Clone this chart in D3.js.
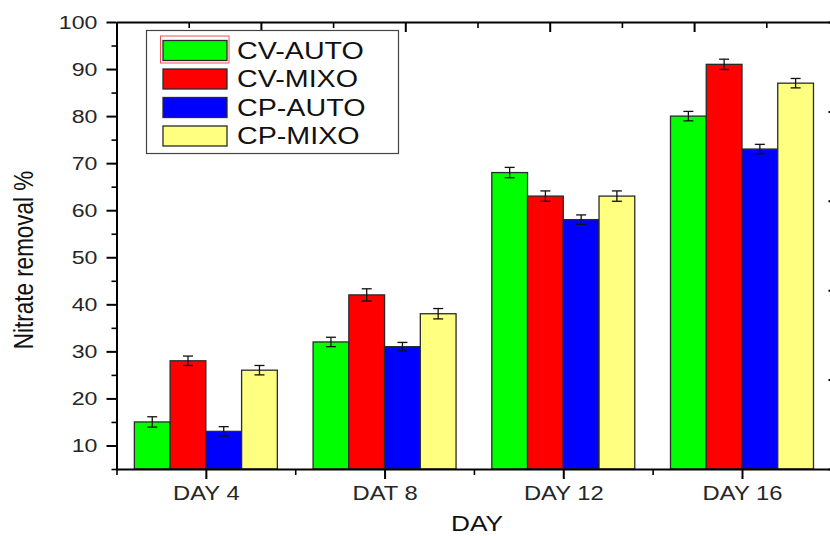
<!DOCTYPE html>
<html>
<head>
<meta charset="utf-8">
<script src="https://cdn.jsdelivr.net/npm/d3@7/dist/d3.min.js"></script>
<style>
  html, body { margin: 0; padding: 0; background: #fff; }
  svg { display: block; font-family: "Liberation Sans", Arial, sans-serif; }
</style>
</head>
<body>
<svg id="chart" width="830" height="536"></svg>
<script>
// Nitrate removal (%) per sampling day for each strain / growth mode
const days = ["DAY 4", "DAT 8", "DAY 12", "DAY 16"];
const seriesNames = ["CV-AUTO", "CV-MIXO", "CP-AUTO", "CP-MIXO"];
const cvAuto = [15, 32, 68, 80];
const cvMixo = [28, 42, 63, 91];
const cpAuto = [13, 31, 58, 73];
const cpMixo = [26, 38, 63, 87];
const cvAutoErr = [1.1, 1.0, 1.1, 1.0];
const cvMixoErr = [1.0, 1.3, 1.1, 1.1];
const cpAutoErr = [1.0, 0.9, 1.0, 1.0];
const cpMixoErr = [1.0, 1.1, 1.1, 1.0];
const yTicks = [10, 20, 30, 40, 50, 60, 70, 80, 90, 100];
const yMinorTicks = [5, 15, 25, 35, 45, 55, 65, 75, 85, 95];

const seriesValues = [cvAuto, cvMixo, cpAuto, cpMixo];
const seriesErrors = [cvAutoErr, cvMixoErr, cpAutoErr, cpMixoErr];
const colors = ["#00ff00", "#ff0000", "#0000ff", "#ffff80"];

const SX = 1.22;              // horizontal glyph stretch
const plotLeft = 116.5, plotRight = 838.5, plotTop = 22, plotBottom = 469;

const svg = d3.select("#chart");

// scales
const y = d3.scaleLinear().domain([5, 100]).range([plotBottom, plotTop]);
const x = d3.scaleLinear().domain([0.5, 4.54]).range([plotLeft, plotRight]);
const step = x(2) - x(1);
const inner = d3.scaleBand().domain(seriesNames).range([-0.4 * step, 0.4 * step]).padding(0);
const yRight = d3.scaleLinear().domain([0, 5]).range([plotBottom, plotTop]);
const xTop = d3.scaleLinear().domain([0, 5]).range([plotLeft, plotRight]);

// bars
const rows = [];
days.forEach((d, i) => {
  seriesNames.forEach((s, j) => {
    rows.push({ day: i + 1, series: s, j, value: seriesValues[j][i], err: seriesErrors[j][i] });
  });
});

const g = svg.append("g");
g.selectAll("rect.bar").data(rows).join("rect")
  .attr("class", "bar")
  .attr("x", d => x(d.day) + inner(d.series))
  .attr("width", inner.bandwidth())
  .attr("y", d => y(d.value))
  .attr("height", d => y(5) - y(d.value))
  .attr("fill", d => colors[d.j])
  .attr("stroke", "#2a2a2a")
  .attr("stroke-width", 1.3);

// error bars
const eb = g.selectAll("g.err").data(rows).join("g").attr("class", "err")
  .attr("stroke", "#111").attr("stroke-width", 1.3);
const cx = d => x(d.day) + inner(d.series) + inner.bandwidth() / 2;
eb.append("line").attr("x1", cx).attr("x2", cx)
  .attr("y1", d => y(d.value + d.err)).attr("y2", d => y(d.value - d.err));
eb.append("line").attr("x1", d => cx(d) - 5).attr("x2", d => cx(d) + 5)
  .attr("y1", d => y(d.value + d.err)).attr("y2", d => y(d.value + d.err));
eb.append("line").attr("x1", d => cx(d) - 5).attr("x2", d => cx(d) + 5)
  .attr("y1", d => y(d.value - d.err)).attr("y2", d => y(d.value - d.err));

// stretch text horizontally about its anchor
function stretch(sel) {
  sel.each(function () {
    const t = d3.select(this);
    const tx = +t.attr("x") || 0, ty = +t.attr("y") || 0;
    t.attr("x", 0).attr("y", 0).attr("transform", `translate(${tx},${ty}) scale(${SX},1)`);
  });
}

function styleAxis(sel, w) {
  sel.select(".domain").attr("stroke", "#000").attr("stroke-width", 2);
  sel.selectAll(".tick line").attr("stroke", "#000").attr("stroke-width", w);
}

// left axis
const gl = svg.append("g").attr("transform", `translate(${plotLeft},0)`)
  .call(d3.axisLeft(y).tickValues(yTicks).tickSize(10).tickSizeOuter(0).tickPadding(9));
styleAxis(gl, 2);
gl.selectAll(".tick text").attr("font-size", 19).attr("fill", "#262626")
  .attr("font-family", "Liberation Sans, Arial, sans-serif").call(stretch);
const glm = svg.append("g").attr("transform", `translate(${plotLeft},0)`)
  .call(d3.axisLeft(y).tickValues(yMinorTicks).tickSize(5).tickSizeOuter(0).tickFormat(""));
styleAxis(glm, 1.6);
glm.select(".domain").remove();

// bottom axis
const gb = svg.append("g").attr("transform", `translate(0,${plotBottom})`)
  .call(d3.axisBottom(x).tickValues([1, 2, 3, 4]).tickFormat(d => days[d - 1])
    .tickSize(10).tickSizeOuter(0).tickPadding(7));
styleAxis(gb, 2);
gb.selectAll(".tick text").attr("font-size", 19.5).attr("fill", "#262626")
  .attr("font-family", "Liberation Sans, Arial, sans-serif").call(stretch);
const gbm = svg.append("g").attr("transform", `translate(0,${plotBottom})`)
  .call(d3.axisBottom(x).tickValues([0.5, 1.5, 2.5, 3.5, 4.5]).tickSize(6).tickSizeOuter(0).tickFormat(""));
styleAxis(gbm, 1.6);
gbm.select(".domain").remove();

// top axis (inward ticks, no labels)
const gt = svg.append("g").attr("transform", `translate(0,${plotTop})`)
  .call(d3.axisTop(xTop).ticks(5).tickSize(-10).tickSizeOuter(0).tickFormat(""));
styleAxis(gt, 2);
const gtm = svg.append("g").attr("transform", `translate(0,${plotTop})`)
  .call(d3.axisTop(xTop).tickValues([0.5, 1.5, 2.5, 3.5, 4.5]).tickSize(-6).tickSizeOuter(0).tickFormat(""));
styleAxis(gtm, 1.6);
gtm.select(".domain").remove();

// right axis (inward ticks, no labels)
const gr = svg.append("g").attr("transform", `translate(${plotRight},0)`)
  .call(d3.axisRight(yRight).ticks(5).tickSize(-10).tickSizeOuter(0).tickFormat(""));
styleAxis(gr, 2);

// axis titles
svg.append("text")
  .attr("transform", `translate(477,531) scale(${SX},1)`)
  .attr("text-anchor", "middle").attr("font-size", 21.5).attr("fill", "#111")
  .text("DAY");
svg.append("text")
  .attr("transform", `translate(33,260) scale(${SX},1) rotate(-90)`)
  .attr("text-anchor", "middle").attr("font-size", 22.5).attr("fill", "#111")
  .text("Nitrate removal %");

// legend
const lg = svg.append("g");
lg.append("rect").attr("x", 146.5).attr("y", 30.5).attr("width", 252).attr("height", 123)
  .attr("fill", "#fff").attr("stroke", "#444").attr("stroke-width", 1.2);
const item = lg.selectAll("g.item").data(seriesNames).join("g").attr("class", "item")
  .attr("transform", (d, i) => `translate(0,${50.5 + i * 28.5})`);
item.append("rect").attr("x", 163).attr("y", -10).attr("width", 64).attr("height", 20)
  .attr("fill", (d, i) => colors[i]).attr("stroke", "#2a2a2a").attr("stroke-width", 1.3);
item.filter((d, i) => i === 0).append("rect")
  .attr("x", 160.5).attr("y", -14.5).attr("width", 68.5).attr("height", 27)
  .attr("fill", "none").attr("stroke", "#ee5555").attr("stroke-width", 1);
item.append("text")
  .attr("transform", `translate(237,8) scale(${SX},1)`)
  .attr("font-size", 23.5).attr("fill", "#111")
  .text(d => d);
</script>
</body>
</html>
